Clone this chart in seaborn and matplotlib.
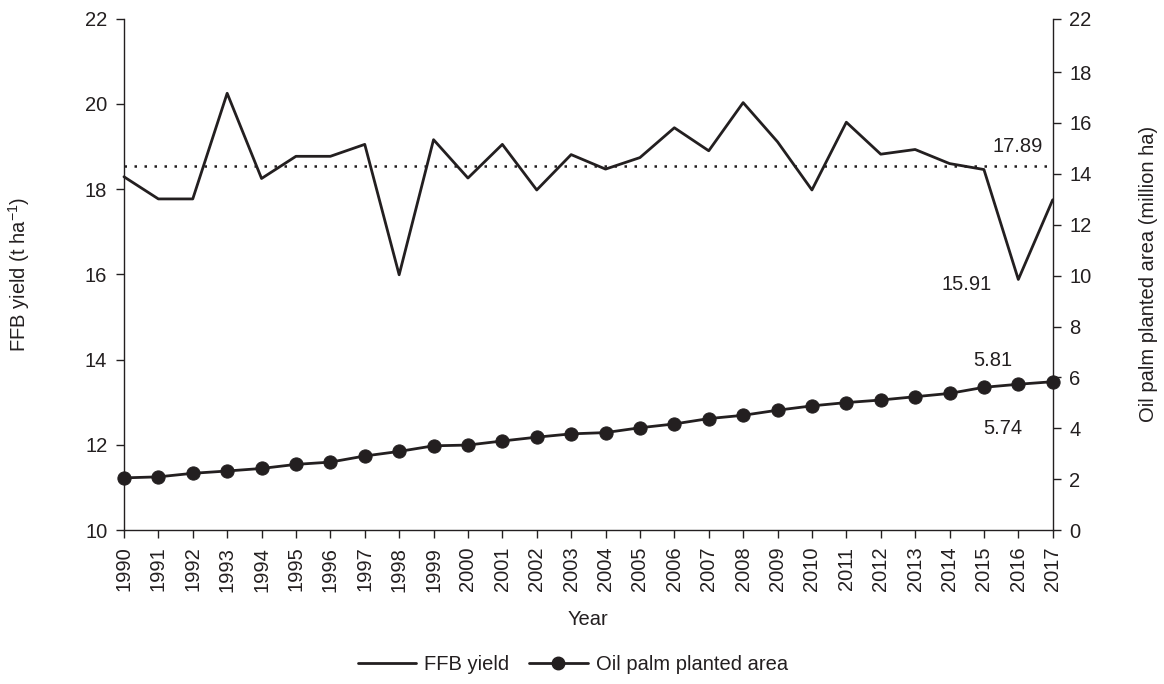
import numpy as np
import pandas as pd
import matplotlib
matplotlib.use("Agg")
import matplotlib.pyplot as plt
import seaborn as sns
from matplotlib.lines import Line2D

years = list(range(1990, 2018))
ffb_yield = [18.29, 17.77, 17.77, 20.25, 18.25, 18.77, 18.77, 19.05, 15.99, 19.16,
             18.26, 19.05, 17.98, 18.81, 18.47, 18.74, 19.44, 18.90, 20.03, 19.11,
             17.98, 19.57, 18.82, 18.93, 18.60, 18.46, 15.88, 17.75]
planted_area = [2.05, 2.09, 2.23, 2.32, 2.42, 2.58, 2.67, 2.91, 3.09, 3.31,
                3.34, 3.50, 3.65, 3.78, 3.83, 4.02, 4.17, 4.38, 4.51, 4.71,
                4.88, 5.01, 5.11, 5.24, 5.37, 5.61, 5.73, 5.83]
mean_line = 18.54
left_ticks = [10, 12, 14, 16, 18, 20, 22]
right_ticks = [0, 2, 4, 6, 8, 10, 12, 14, 16, 18, 20.1]
right_tick_labels = ["0", "2", "4", "6", "8", "10", "12", "14", "16", "18", "22"]
annotations = [  # (text, x, y, axis, ha)
    ("17.89", 2016.7, 19.0, "left", "right"),
    ("15.91", 2014.5, 15.77, "left", "center"),
    ("5.81", 2015.26, 6.68, "right", "center"),
    ("5.74", 2015.55, 4.0, "right", "center"),
]

df = pd.DataFrame({"Year": years, "FFB": ffb_yield, "Area": planted_area})

sns.set_style("ticks")
plt.rcParams["font.family"] = ["Liberation Sans", "DejaVu Sans"]
plt.rcParams["mathtext.default"] = "regular"
ink = "#231f20"
fs = 14.5

fig = plt.figure(figsize=(11.64, 6.84), dpi=100)
ax = fig.add_axes([0.1065, 0.2251, 0.9044 - 0.1065, 0.9727 - 0.2251])
ax2 = ax.twinx()

sns.lineplot(data=df, x="Year", y="FFB", ax=ax, color=ink, linewidth=2.0, clip_on=False)
ax.axhline(mean_line, color=ink, linestyle=(0, (1, 3)), linewidth=1.8)
sns.lineplot(data=df, x="Year", y="Area", ax=ax2, color=ink, linewidth=2.0,
             marker="o", markersize=9.5, markeredgecolor=ink, markerfacecolor=ink,
             clip_on=False)

ax.set_xlim(1990, 2017)
ax.set_ylim(10, 22)
ax2.set_ylim(0, 20.1)
ax.set_xticks(years)
ax.set_xticklabels([str(y) for y in years], rotation=90)
ax.set_yticks(left_ticks)
ax.set_yticklabels([str(t) for t in left_ticks])
ax2.set_yticks(right_ticks)
ax2.set_yticklabels(right_tick_labels)

for a in (ax, ax2):
    a.tick_params(axis="both", labelsize=fs, colors=ink, length=6, width=1.0,
                  direction="out", pad=6)
    for s in a.spines.values():
        s.set_color(ink)
        s.set_linewidth(1.0)
    a.spines["top"].set_visible(False)
    a.grid(False)
ax.spines["right"].set_visible(False)
ax2.spines["left"].set_visible(False)
ax2.spines["bottom"].set_visible(False)
ax2.spines["right"].set_visible(True)

ax.set_xlabel("Year", fontsize=fs, color=ink, labelpad=13)
ax.set_ylabel("FFB yield (t ha$^{-1}$)", fontsize=fs, color=ink, labelpad=38)
ax2.set_ylabel("Oil palm planted area (million ha)", fontsize=fs, color=ink, labelpad=34)

for txt, x, y, which, ha in annotations:
    target = ax if which == "left" else ax2
    target.text(x, y, txt, fontsize=fs, color=ink, ha=ha, va="center")

handles = [
    Line2D([], [], color=ink, linewidth=2.0),
    Line2D([], [], color=ink, linewidth=2.0, marker="o", markersize=9),
]
fig.legend(handles, ["FFB yield", "Oil palm planted area"], loc="center",
           bbox_to_anchor=(0.492, 0.029), ncol=2, frameon=False, fontsize=fs,
           handlelength=2.9, handletextpad=0.4, columnspacing=1.0,
           labelcolor=ink)

fig.savefig("out.png", dpi=100)
